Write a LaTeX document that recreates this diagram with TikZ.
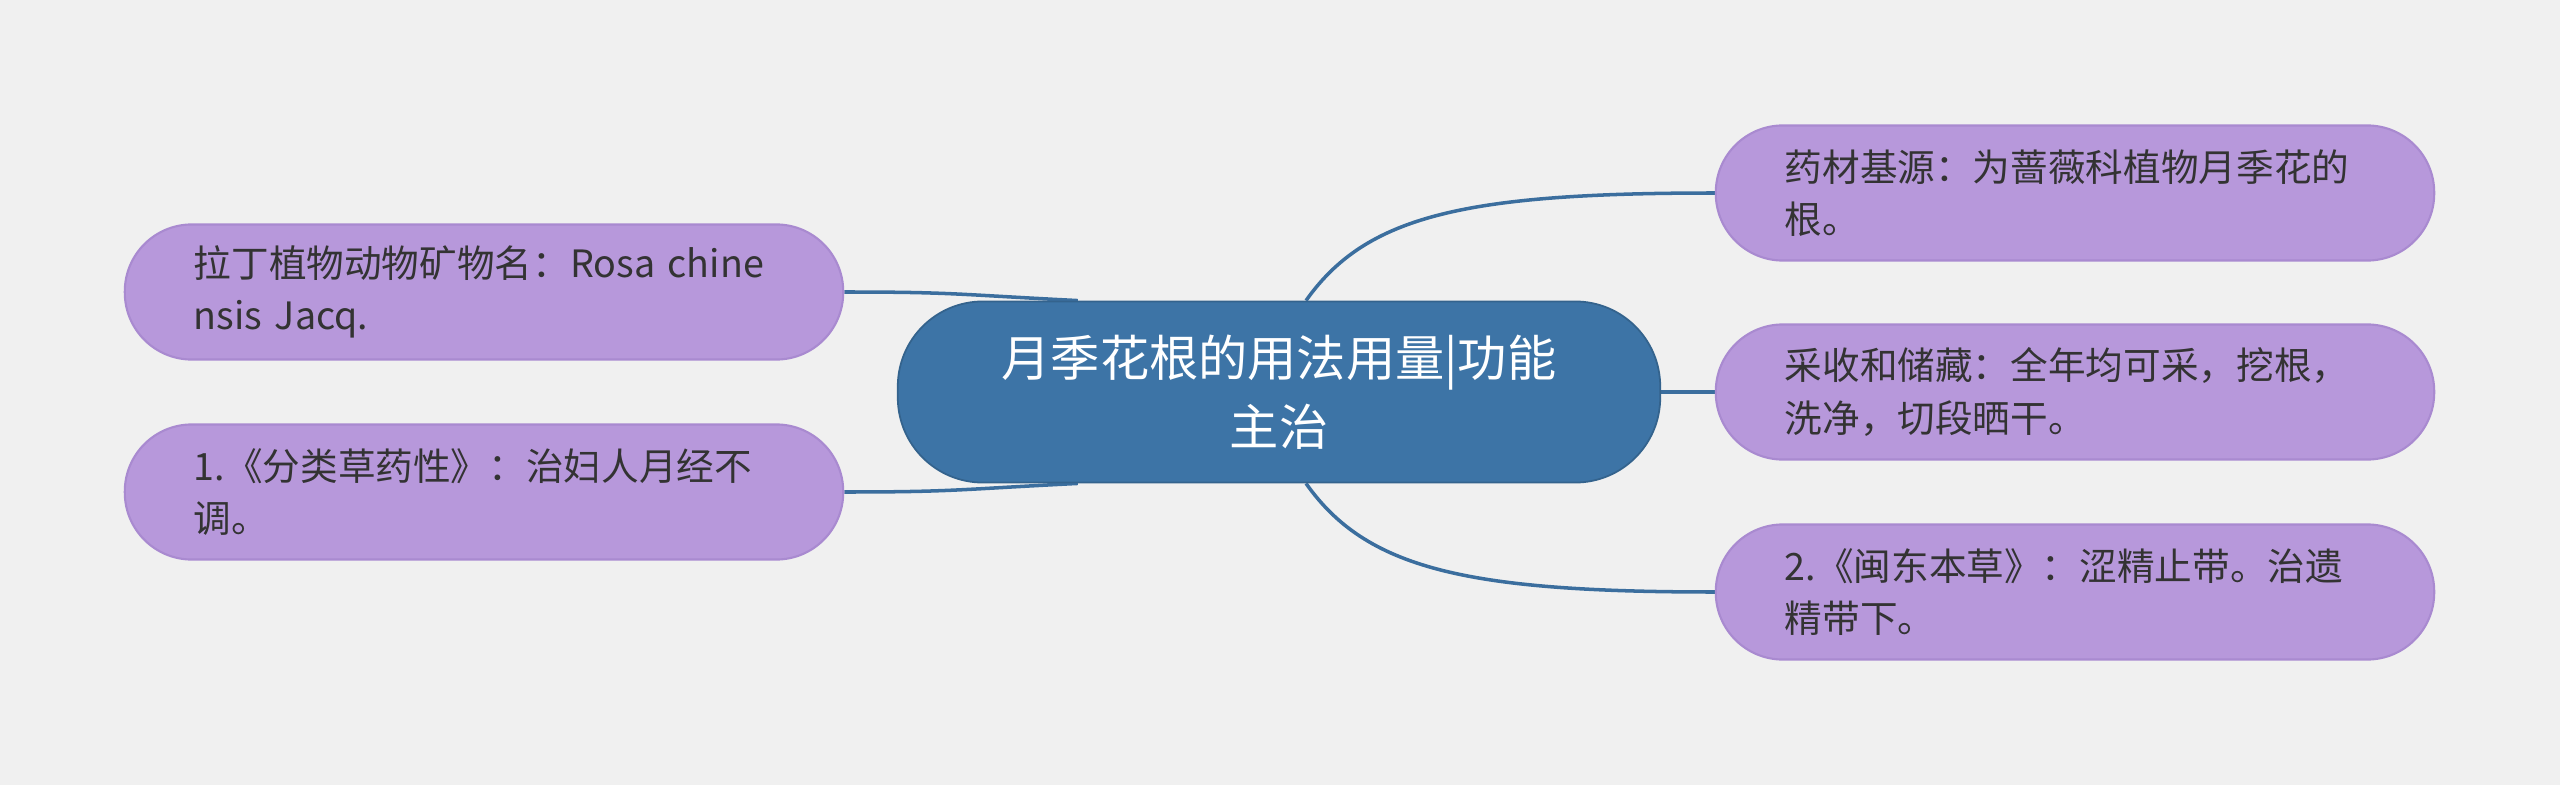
\documentclass[tikz,border=0pt]{standalone}
\usepackage{fontspec}
\usetikzlibrary{backgrounds}
\newfontfamily\cjk{Noto Sans CJK SC}
\definecolor{bgcol}{HTML}{F0F0F0}
\definecolor{rootcol}{HTML}{3D74A6}
\definecolor{leafcol}{HTML}{B798DB}
\definecolor{leafline}{HTML}{A98AD0}
\definecolor{linkcol}{HTML}{3B6E9E}
\definecolor{txtcol}{HTML}{333333}

\begin{document}
\begin{tikzpicture}[x=0.01cm, y=-0.01cm,
  rootbox/.style={fill=rootcol, draw=rootcol!85!black, line width=0.5pt,
    rounded corners=0.85cm, minimum width=7.62cm, minimum height=1.81cm,
    text width=6.8cm, align=center, inner sep=0pt, text=white,
    font=\cjk\fontsize{14}{19.5}\selectfont},
  leafbox/.style={fill=leafcol, draw=leafline, line width=0.6pt,
    rounded corners=0.67cm, minimum height=1.35cm, text width=5.8cm,
    inner xsep=0.69cm, inner ysep=0pt, align=left, text=txtcol,
    font=\cjk\fontsize{10.7}{14.8}\selectfont},
  link/.style={draw=linkcol, line width=1pt}]
  \node[rootbox] (root) at (1279,392) {月季花根的用法用量|功能\\主治};
  \node[leafbox] (latin) at (484,292) {拉丁植物动物矿物名：Rosa chine\\nsis Jacq.};
  \node[leafbox] (fenlei) at (484,492) {1.《分类草药性》：治妇人月经不\\调。};
  \node[leafbox] (jiyuan) at (2075,193) {药材基源：为蔷薇科植物月季花的\\根。};
  \node[leafbox] (caishou) at (2075,392) {采收和储藏：全年均可采，挖根，\\洗净，切段晒干。};
  \node[leafbox] (mindong) at (2075,592) {2.《闽东本草》：涩精止带。治遗\\精带下。};
  \begin{scope}[on background layer]
    \fill[bgcol] (0,0) rectangle (2560,785);
    \draw[link] (latin.east) .. controls +(110,0) and +(-120,-6) .. ([xshift=-2.01cm]root.north);
    \draw[link] (fenlei.east) .. controls +(110,0) and +(-120,6) .. ([xshift=-2.01cm]root.south);
    \draw[link] ([xshift=0.27cm]root.north) .. controls +(60,-85) and +(-250,0) .. (jiyuan.west);
    \draw[link] (root.east) -- (caishou.west);
    \draw[link] ([xshift=0.27cm]root.south) .. controls +(60,85) and +(-250,0) .. (mindong.west);
  \end{scope}
\end{tikzpicture}
\end{document}
